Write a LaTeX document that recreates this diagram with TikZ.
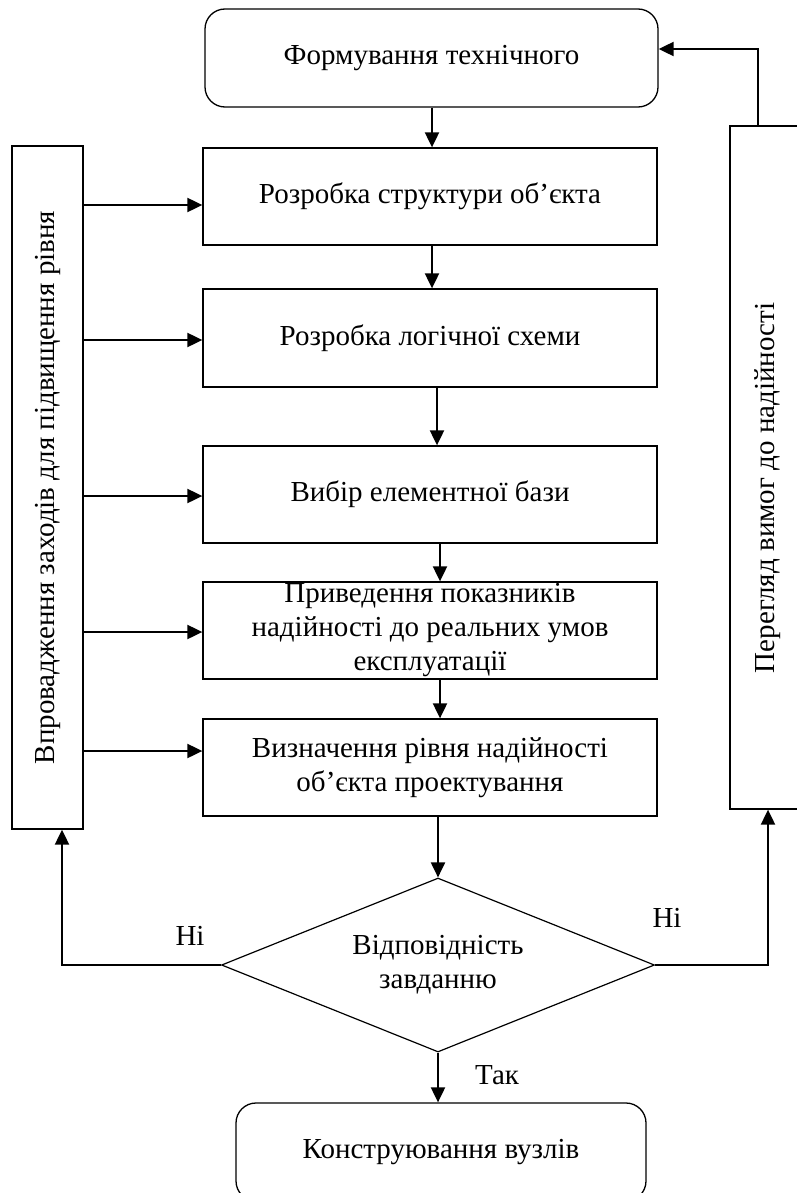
\documentclass[tikz,border=0pt]{standalone}
\usepackage{fontspec}
\setmainfont{Liberation Serif}
\usetikzlibrary{arrows.meta,shapes.geometric}
\newcommand{\txtsz}{\fontsize{29}{34}\selectfont}
\tikzset{
  box/.style={draw, line width=1.3pt, minimum width=454pt, minimum height=97pt,
    inner sep=0pt, align=center, font=\txtsz},
  rbox/.style={box, rounded corners=20pt},
  sidebox/.style={draw, line width=1.3pt, minimum height=683pt, inner sep=0pt},
  dec/.style={diamond, draw, line width=1.2pt, minimum width=433pt, minimum height=174pt,
    aspect=2.49, inner sep=0pt, align=center, font=\txtsz},
  arr/.style={draw, line width=2pt, -{Triangle[length=15pt, width=14pt]}},
  lbl/.style={font=\txtsz, inner sep=0pt}
}

\begin{document}
\begin{tikzpicture}[x=1pt, y=-1pt]
  \useasboundingbox (0,0) rectangle (797,1193);
  \clip (0,0) rectangle (797,1193);

  % main column
  \node[rbox, minimum width=453pt, minimum height=98pt] (start) at (431.5,58) {Формування технічного};
  \node[box] (s1) at (430,196.5) {Розробка структури об’єкта};
  \node[box, minimum height=98pt] (s2) at (430,338) {Розробка логічної схеми};
  \node[box] (s3) at (430,494.5) {Вибір елементної бази};
  \node[box] (s4) at (430,630.5) {Приведення показників\\надійності до реальних умов\\експлуатації};
  \node[box] (s5) at (430,767.5) {Визначення рівня надійності\\об’єкта проектування};
  \node[dec] (check) at (438,965) {Відповідність\\завданню};
  \node[rbox, minimum width=410pt, minimum height=98pt] (finish) at (441,1152) {Конструювання вузлів};

  % side boxes
  \node[sidebox, minimum width=71pt] (measures) at (47.5,487.5) {};
  \node[lbl, rotate=90] (measurestxt) at (measures.center) {Впровадження заходів для підвищення рівня};
  \node[sidebox, minimum width=76pt] (review) at (768,467.5) {};
  \node[lbl, rotate=90] (reviewtxt) at (768,488) {Перегляд вимог до надійності};

  % flow down
  \foreach \a/\b/\dx in {start/s1/0.5, s1/s2/2, s2/s3/7, s3/s4/10, s4/s5/10}
    \draw[arr] ([xshift=\dx pt]\a.south) -- ([xshift=\dx pt]\a.south |- \b.north);
  \draw[arr] (s5.south -| check.north) -- (check.north);
  \draw[arr] (check.south) -- (check.south |- finish.north);

  % measures feed every step
  \foreach \n/\dy in {s1/-8.5, s2/-2, s3/-1.5, s4/-1.5, s5/16.5} {
    \coordinate (t) at ([yshift=\dy pt]\n.west);
    \draw[arr] (t -| measures.east) -- (t);
  }

  % loops back
  \draw[arr] (check.west) -| ([xshift=14.5pt]measures.south);
  \draw[arr] (check.east) -| (review.south);
  \draw[arr] ([xshift=-10pt]review.north) |- ([yshift=9pt]start.east);

  \node[lbl] (noleft) at (190,936) {Ні};
  \node[lbl] (noright) at (667,918) {Ні};
  \node[lbl] (yes) at (497,1075) {Так};
\end{tikzpicture}
\end{document}
